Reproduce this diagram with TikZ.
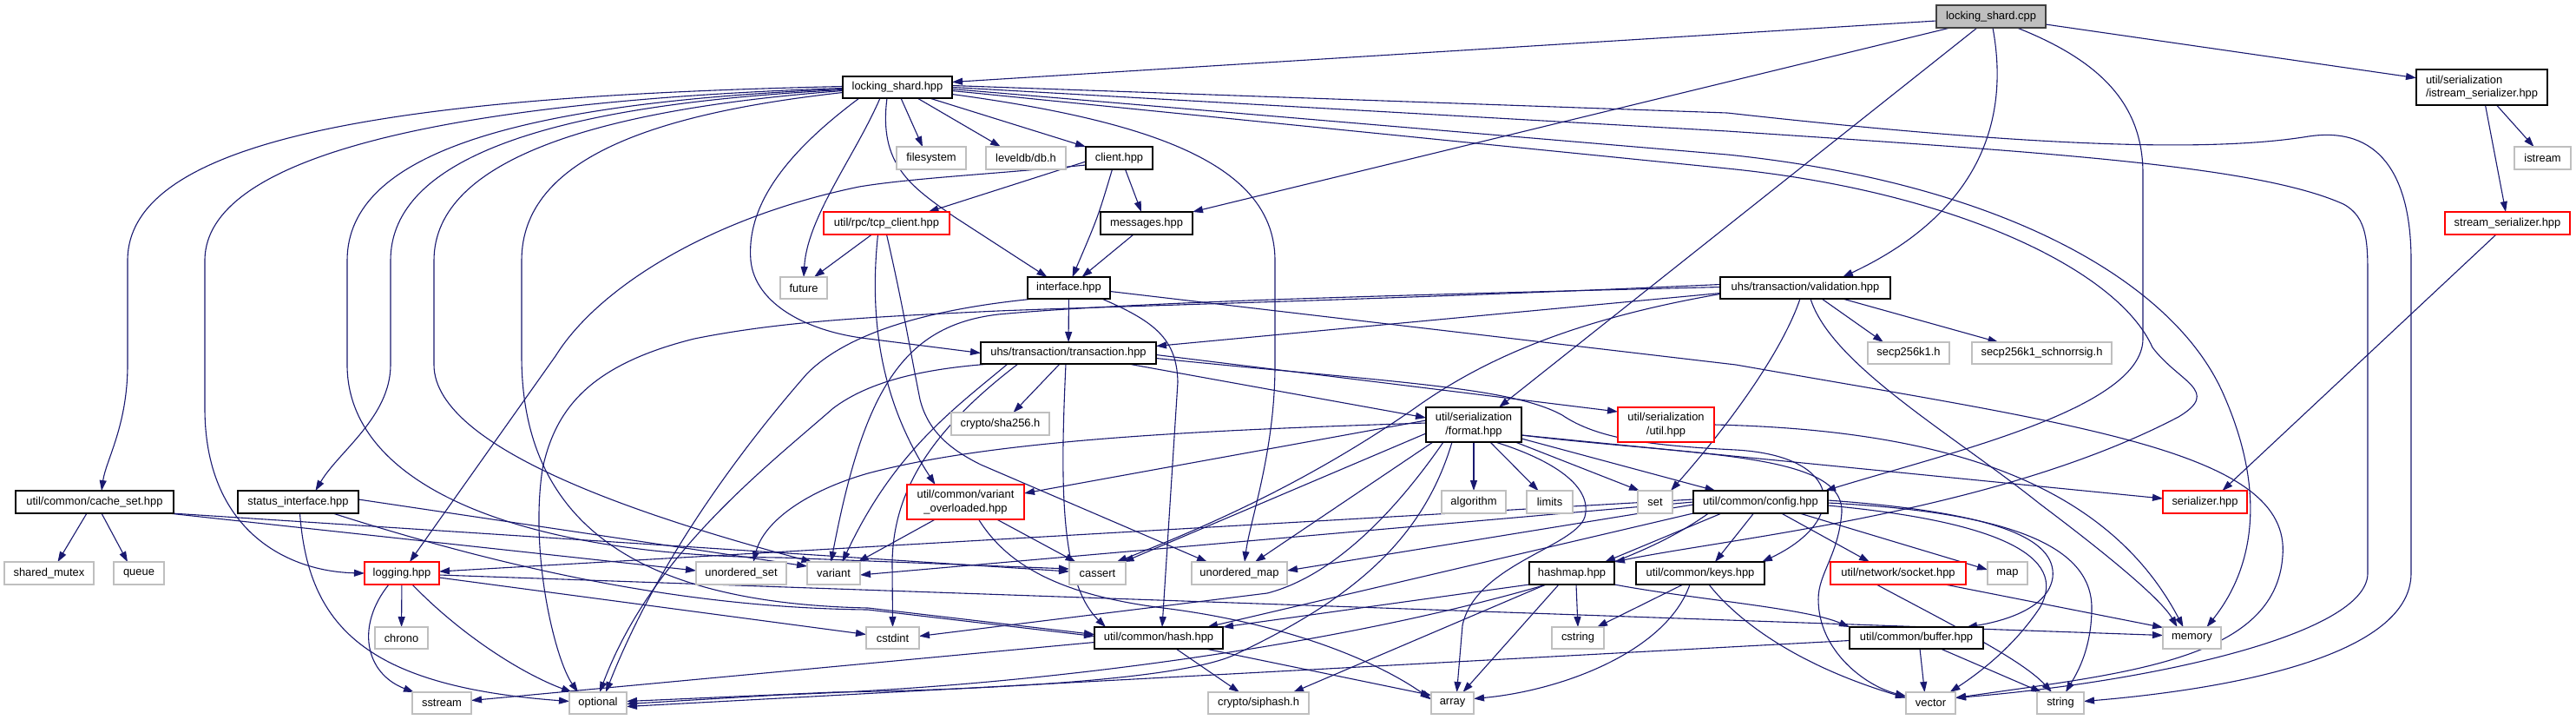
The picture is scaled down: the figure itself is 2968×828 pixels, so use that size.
\documentclass[tikz,border=0pt]{standalone}
\usepackage{fontspec}
\setmainfont{Liberation Sans}
\usetikzlibrary{arrows.meta}
\pgfdeclarelayer{back}
\pgfdeclarelayer{edges}
\pgfsetlayers{back,edges,main}
\definecolor{edgecol}{HTML}{191970}
\definecolor{extcol}{HTML}{BFBFBF}
\definecolor{rootfill}{HTML}{BFBFBF}
\definecolor{rootdraw}{HTML}{404040}
\definecolor{trunc}{HTML}{FF0000}
\newcommand\nf{\fontsize{12.9}{15.5}\selectfont}
\newcommand\nd[7]{\node[#1,minimum width=#5pt,minimum height=#6pt] (#2) at (#3,#4) {#7};}
\tikzset{
  box/.style={rectangle,inner sep=0pt,outer sep=0pt,font=\nf,align=center,fill=white},
  doc/.style={box,draw=black,line width=1.1pt},
  docl/.style={doc,align=left},
  ext/.style={box,draw=extcol,line width=1.2pt},
  red/.style={box,draw=trunc,line width=1.1pt},
  root/.style={box,draw=rootdraw,fill=rootfill,line width=1.1pt},
  ed/.style={draw=edgecol,line width=1.1pt,-{Triangle[length=12pt,width=8pt]}}
}
\begin{document}
\begin{tikzpicture}[x=1pt,y=-1pt]
\begin{pgfonlayer}{back}
\fill[white] (0,0) rectangle (2968,828);
\end{pgfonlayer}
\useasboundingbox (0,0) rectangle (2968,828);
% nodes
\nd{root}{cpp}{2294}{19}{126}{26}{locking\_shard.cpp}
\nd{doc}{lshpp}{1034}{100.5}{126}{25}{locking\_shard.hpp}
\nd{docl}{istreamser}{2859.5}{100.5}{151}{41}{util/serialization\\/istream\_serializer.hpp}
\nd{ext}{filesystem}{1073}{182}{80}{26}{filesystem}
\nd{ext}{leveldb}{1182}{182}{92}{26}{leveldb/db.h}
\nd{doc}{client}{1289.5}{182}{77}{26}{client.hpp}
\nd{ext}{istream}{2929.5}{182}{65}{26}{istream}
\nd{red}{tcp}{1021.5}{257}{145}{26}{util/rpc/tcp\_client.hpp}
\nd{doc}{messages}{1321}{257}{106}{26}{messages.hpp}
\nd{red}{streamser}{2889}{257}{144}{26}{stream\_serializer.hpp}
\nd{ext}{future}{926}{331.5}{54}{25}{future}
\nd{doc}{interface}{1231.5}{331.5}{95}{25}{interface.hpp}
\nd{doc}{validation}{2080}{331.5}{196}{25}{uhs/transaction/validation.hpp}
\nd{doc}{transaction}{1231}{406.5}{202}{25}{uhs/transaction/transaction.hpp}
\nd{ext}{secp}{2199}{406.5}{94}{25}{secp256k1.h}
\nd{ext}{schnorr}{2352.5}{406.5}{161}{25}{secp256k1\_schnorrsig.h}
\nd{ext}{sha}{1152.5}{488}{113}{26}{crypto/sha256.h}
\nd{doc}{format}{1698}{489}{110}{40}{util/serialization\\/format.hpp}
\nd{red}{sutil}{1919.5}{489}{111}{40}{util/serialization\\/util.hpp}
\nd{doc}{cache}{109}{578}{182}{26}{util/common/cache\_set.hpp}
\nd{doc}{status}{343.5}{578}{139}{26}{status\_interface.hpp}
\nd{red}{varov}{1112.5}{578}{135}{40}{util/common/variant\\\_overloaded.hpp}
\nd{ext}{algorithm}{1698}{578}{74}{26}{algorithm}
\nd{ext}{limits}{1785.5}{578}{53}{26}{limits}
\nd{ext}{set}{1907}{578}{40}{26}{set}
\nd{doc}{config}{2028.5}{578}{155}{26}{util/common/config.hpp}
\nd{red}{serializer}{2540.5}{578}{97}{26}{serializer.hpp}
\nd{ext}{smutex}{56.5}{660}{103}{26}{shared\_mutex}
\nd{ext}{queue}{160}{660}{58}{26}{queue}
\nd{red}{logging}{463}{660}{86}{26}{logging.hpp}
\nd{ext}{uset}{854}{660}{104}{26}{unordered\_set}
\nd{ext}{variant}{960.5}{660}{61}{26}{variant}
\nd{ext}{cassert}{1264.5}{660}{65}{26}{cassert}
\nd{ext}{umap}{1428}{660}{110}{26}{unordered\_map}
\nd{doc}{hashmap}{1811}{660}{98}{26}{hashmap.hpp}
\nd{doc}{keys}{1959}{660}{148}{26}{util/common/keys.hpp}
\nd{red}{socket}{2187}{660}{156}{26}{util/network/socket.hpp}
\nd{ext}{map}{2313}{660}{46}{26}{map}
\nd{ext}{chrono}{462.5}{734.5}{61}{25}{chrono}
\nd{ext}{cstdint}{1028.5}{734.5}{61}{25}{cstdint}
\nd{doc}{hash}{1335}{734.5}{148}{25}{util/common/hash.hpp}
\nd{ext}{cstring}{1818}{734.5}{60}{25}{cstring}
\nd{doc}{buffer}{2208}{734.5}{154}{25}{util/common/buffer.hpp}
\nd{ext}{memory}{2525.5}{734.5}{67}{25}{memory}
\nd{ext}{sstream}{509}{809.5}{68}{25}{sstream}
\nd{ext}{optional}{689}{809.5}{66}{25}{optional}
\nd{ext}{siphash}{1450}{809.5}{116}{25}{crypto/siphash.h}
\nd{ext}{array}{1673.5}{809.5}{49}{25}{array}
\nd{ext}{vector}{2224.5}{809.5}{57}{25}{vector}
\nd{ext}{string}{2374}{809.5}{54}{25}{string}
\begin{pgfonlayer}{edges}
% cpp
\draw[ed] ([yshift=-5pt]cpp.west) -- ([yshift=6pt]lshpp.east);
\draw[ed] ([xshift=-47pt]cpp.south) -- (messages.north east);
\draw[ed] ([xshift=-16pt]cpp.south) -- ([xshift=29pt]format.north);
\draw[ed] ([xshift=2pt]cpp.south) .. controls (2318,150) and (2270,250) .. ([xshift=43pt]validation.north);
\draw[ed] ([xshift=30pt]cpp.south) .. controls (2420,70) and (2469,120) .. (2469,200) -- (2469,390) .. controls (2469,470) and (2250,520) .. ([xshift=-3pt]config.north east);
\draw[ed] (cpp) -- (istreamser);
% istream serializer
\draw[ed] ([xshift=17pt]istreamser.south) -- ([xshift=-10pt]istream.north);
\draw[ed] ([xshift=4pt]istreamser.south) -- ([xshift=-2pt]streamser.north);
\draw[ed] ([xshift=-13pt]streamser.south) -- ([xshift=20pt]serializer.north);
% locking_shard.hpp
\draw[ed] ([xshift=4pt]lshpp.south) -- ([xshift=-10pt]filesystem.north);
\draw[ed] ([xshift=23pt]lshpp.south) -- ([xshift=-29pt]leveldb.north);
\draw[ed] ([xshift=37pt]lshpp.south) -- (client.north west);
\draw[ed] ([xshift=-20pt]lshpp.south) .. controls (985,180) and (930,250) .. (future.north);
\draw[ed] ([xshift=-12pt]lshpp.south) .. controls (1012,190) and (1050,215) .. (1100,250) -- ([xshift=-25pt]interface.north);
\draw[ed] ([xshift=-44pt]lshpp.south) .. controls (900,180) and (860,240) .. (865,300) .. controls (870,350) and (930,382) .. (1000,390) -- (transaction.west);
\draw[ed] ([yshift=1pt]lshpp.west) .. controls (500,110) and (147,150) .. (147,300) -- (147,420) .. controls (147,490) and (122,530) .. ([xshift=8pt]cache.north);
\draw[ed] ([yshift=-1pt]lshpp.west) .. controls (560,115) and (236,170) .. (236,300) -- (236,470) .. controls (236,610) and (330,658) .. (logging.west);
\draw[ed] ([yshift=-2pt]lshpp.west) .. controls (600,118) and (400,175) .. (400,300) -- (400,420) .. controls (400,560) and (600,640) .. (900,642) -- ([yshift=5pt]cassert.west);
\draw[ed] ([yshift=-3pt]lshpp.west) .. controls (640,120) and (450,180) .. (450,300) -- (450,420) .. controls (450,480) and (390,520) .. ([xshift=20pt]status.north);
\draw[ed] ([yshift=-4pt]lshpp.west) .. controls (700,125) and (500,180) .. (500,300) -- (500,420) .. controls (500,520) and (760,600) .. ([xshift=-25pt]variant.north);
\draw[ed] ([yshift=-6pt]lshpp.west) .. controls (760,130) and (601,180) .. (601,300) -- (601,410) .. controls (601,620) and (760,695) .. (1000,700) -- ([yshift=4pt]hash.west);
\draw[ed] ([yshift=-8pt]lshpp.east) .. controls (1330,140) and (1469,190) .. (1469,300) -- (1469,420) .. controls (1469,520) and (1440,600) .. ([xshift=6pt]umap.north);
\draw[ed] ([yshift=-4pt]lshpp.east) -- (1990,194) .. controls (2250,220) and (2440,310) .. (2480,400) .. controls (2510,440) and (2560,450) .. (2510,480) .. controls (2300,590) and (1990,620) .. (hashmap.north east);
\draw[ed] ([yshift=-2pt]lshpp.east) -- (1990,178) .. controls (2300,210) and (2500,320) .. (2560,450) .. controls (2610,560) and (2600,650) .. ([xshift=17pt]memory.north);
\draw[ed] (lshpp.east) -- (1990,151) .. controls (2350,175) and (2600,190) .. (2700,235) .. controls (2728,250) and (2728,280) .. (2728,320) -- (2728,660) .. controls (2728,730) and (2480,785) .. ([yshift=6pt]vector.east);
\draw[ed] ([yshift=2pt]lshpp.east) -- (1990,130) .. controls (2350,170) and (2550,175) .. (2660,157) .. controls (2740,145) and (2778,200) .. (2778,300) -- (2778,660) .. controls (2778,760) and (2550,795) .. ([yshift=2pt]string.east);
% client
\draw[ed] ([yshift=-4pt]client.west) -- ([xshift=48pt]tcp.north);
\draw[ed] ([xshift=7pt]client.south) -- ([xshift=-6pt]messages.north);
\draw[ed] ([xshift=-8pt]client.south) .. controls (1265,250) .. ([xshift=4pt]interface.north);
\draw[ed] ([yshift=-8pt]client.west) .. controls (1150,200) and (1050,205) .. (990,215) .. controls (820,250) and (690,330) .. (640,410) -- ([xshift=9pt]logging.north);
% tcp
\draw[ed] ([xshift=-17pt]tcp.south) -- ([xshift=12pt]future.north);
\draw[ed] ([xshift=-10pt]tcp.south) .. controls (1000,380) and (1020,470) .. ([xshift=-35pt]varov.north);
\draw[ed] (tcp.south) .. controls (1040,350) and (1048,400) .. (1060,460) .. controls (1070,500) and (1100,520) .. (1130,535) -- ([xshift=-37pt]umap.north);
% messages
\draw[ed] ([xshift=-15pt]messages.south) -- ([xshift=15pt]interface.north);
% interface
\draw[ed] (interface) -- (transaction);
\draw[ed] ([xshift=-40pt]interface.south) .. controls (1080,355) and (980,380) .. (930,430) .. controls (860,510) and (760,640) .. ([xshift=9pt]optional.north);
\draw[ed] ([xshift=38pt]interface.south) .. controls (1330,370) and (1356,390) .. (1357,440) -- ([xshift=4pt]hash.north);
\draw[ed] ([yshift=-4pt]interface.east) -- (2000,420) .. controls (2400,490) and (2640,520) .. (2630,640) .. controls (2622,760) and (2450,775) .. ([yshift=6pt]vector.east);
% transaction
\draw[ed] ([xshift=-10pt]transaction.south) -- ([xshift=15pt]sha.north);
\draw[ed] ([xshift=-3pt]transaction.south) .. controls (1222,550) and (1220,670) .. ([xshift=-61pt]hash.north);
\draw[ed] ([xshift=69pt]transaction.south) -- ([yshift=8pt]format.west);
\draw[ed] ([yshift=-2pt]transaction.east) -- ([yshift=15pt]sutil.west);
\draw[ed] ([yshift=-6pt]transaction.east) .. controls (1600,440) and (1740,445) .. (1800,478) .. controls (1840,505) and (1900,513) .. (2000,518) .. controls (2125,525) and (2130,600) .. ([xshift=-3pt]keys.north east);
\draw[ed] ([xshift=-58pt]transaction.south) .. controls (1080,490) and (1028,560) .. (1028,650) -- (cstdint.north);
\draw[ed] ([xshift=-70pt]transaction.south) .. controls (1100,470) and (1030,520) .. ([xshift=10pt]variant.north);
\draw[ed] ([xshift=-90pt]transaction.south) .. controls (1060,425) and (1000,440) .. (960,470) .. controls (880,540) and (750,640) .. ([xshift=2pt]optional.north);
% validation
\draw[ed] ([yshift=-6pt]validation.west) -- ([yshift=8pt]transaction.east);
\draw[ed] ([xshift=19pt]validation.south) -- ([xshift=-29pt]secp.north);
\draw[ed] ([xshift=43pt]validation.south) -- ([xshift=-50pt]schnorr.north);
\draw[ed] ([xshift=-6pt]validation.south) .. controls (2055,400) and (2000,480) .. ([xshift=18pt]set.north);
\draw[ed] ([xshift=6pt]validation.south) .. controls (2110,420) and (2250,500) .. (2350,580) .. controls (2430,640) and (2490,690) .. ([xshift=-17pt]memory.north);
\draw[ed] ([yshift=-7pt]validation.west) .. controls (1800,370) and (1700,420) .. (1630,470) .. controls (1500,560) and (1380,610) .. ([xshift=22pt]cassert.north);
\draw[ed] ([yshift=1pt]validation.west) .. controls (1600,340) and (1300,348) .. (1150,362) .. controls (1040,375) and (995,450) .. ([xshift=-3pt]variant.north);
\draw[ed] ([yshift=4pt]validation.west) .. controls (1600,345) and (1300,352) .. (1150,358) .. controls (1000,365) and (900,370) .. (800,390) .. controls (680,420) and (640,470) .. (625,540) .. controls (610,640) and (640,760) .. ([xshift=-23pt]optional.north);
% format
\draw[ed] ([yshift=5pt]format.west) -- ([yshift=10pt]varov.east);
\draw[ed] (format) -- (algorithm);
\draw[ed] ([xshift=19pt]format.south) -- ([xshift=-13pt]limits.north);
\draw[ed] ([xshift=48pt]format.south) -- ([xshift=-18pt]set.north);
\draw[ed] ([yshift=-16pt]format.east) -- ([xshift=-52pt]config.north);
\draw[ed] ([yshift=-12pt]format.east) -- ([yshift=4pt]serializer.west);
\draw[ed] ([yshift=-10pt]format.west) -- ([xshift=30pt]cassert.north);
\draw[ed] ([xshift=-47pt]format.south) -- ([xshift=18pt]umap.north);
\draw[ed] ([yshift=2pt]format.west) .. controls (1400,495) and (1150,505) .. (1000,545) .. controls (930,565) and (880,600) .. ([xshift=14pt]uset.north);
\draw[ed] ([xshift=-35pt]format.south) .. controls (1600,600) and (1530,665) .. (1460,683) -- ([yshift=2pt]cstdint.east);
\draw[ed] ([xshift=25pt]format.south) .. controls (1790,530) and (1835,560) .. (1826,595) .. controls (1815,630) and (1700,650) .. (1685,720) -- ([xshift=5pt]array.north);
\draw[ed] ([xshift=-25pt]format.south) .. controls (1640,620) and (1560,690) .. (1420,755) .. controls (1350,785) and (1100,795) .. (960,797) -- ([yshift=2pt]optional.east);
\draw[ed] ([yshift=-12pt]format.east) .. controls (1950,525) and (2125,520) .. (2122,590) .. controls (2118,640) and (2095,660) .. (2095,690) .. controls (2095,750) and (2150,790) .. ([yshift=8pt]vector.west);
% serialization util
\draw[ed] (sutil.east) .. controls (2250,495) and (2430,560) .. ([xshift=-10pt]memory.north);
% config
\draw[ed] ([yshift=3pt]config.west) -- ([yshift=2pt]logging.east);
\draw[ed] (config.west) -- ([yshift=-2pt]variant.east);
\draw[ed] ([yshift=-3pt]config.west) -- ([yshift=3pt]umap.east);
\draw[ed] (config.south west) -- ([xshift=-18pt]hash.north east);
\draw[ed] ([xshift=-45pt]config.south) -- ([xshift=38pt]hashmap.north);
\draw[ed] ([xshift=-8pt]config.south) -- ([xshift=17pt]keys.north);
\draw[ed] ([xshift=24pt]config.south) -- ([xshift=-33pt]socket.north);
\draw[ed] ([xshift=45pt]config.south) -- ([yshift=4pt]map.west);
\draw[ed] ([yshift=2pt]config.east) .. controls (2300,590) and (2370,620) .. (2365,665) .. controls (2360,700) and (2310,715) .. ([xshift=58pt]buffer.north);
\draw[ed] ([yshift=-1pt]config.east) .. controls (2320,590) and (2410,630) .. (2410,700) .. controls (2410,750) and (2390,780) .. ([xshift=6pt]string.north);
\draw[ed] ([yshift=-4pt]config.east) .. controls (2300,600) and (2385,640) .. (2350,700) .. controls (2320,745) and (2280,775) .. ([xshift=22pt]vector.north);
\draw[ed] ([xshift=-60pt]config.south) .. controls (1900,640) and (1800,670) .. (1700,695) .. controls (1500,745) and (1200,790) .. (900,800) -- ([yshift=-1pt]optional.east);
% keys
\draw[ed] ([xshift=-20pt]keys.south) -- ([xshift=22pt]cstring.north);
\draw[ed] ([xshift=-12pt]keys.south) .. controls (1920,750) and (1800,795) .. ([yshift=5pt]array.east);
\draw[ed] ([xshift=10pt]keys.south) .. controls (1990,700) and (2050,760) .. ([yshift=6pt]vector.west);
% hashmap
\draw[ed] (hashmap.south west) -- (hash.north east);
\draw[ed] ([xshift=5pt]hashmap.south) -- (cstring.north);
\draw[ed] ([xshift=-15pt]hashmap.south) -- ([xshift=12pt]array.north);
\draw[ed] ([xshift=-30pt]hashmap.south) -- ([xshift=40pt]siphash.north);
\draw[ed] (hashmap.south east) .. controls (1950,690) and (2080,700) .. (buffer.north west);
% hash
\draw[ed] ([xshift=20pt]hash.south) -- ([xshift=-22pt]siphash.north);
\draw[ed] ([xshift=54pt]hash.south) -- ([yshift=9pt]array.west);
\draw[ed] ([yshift=-5pt]hash.west) -- ([yshift=3pt]sstream.east);
% buffer
\draw[ed] ([xshift=4pt]buffer.south) -- ([xshift=-7pt]vector.north);
\draw[ed] ([xshift=28pt]buffer.south) -- ([xshift=-22pt]string.north);
\draw[ed] ([yshift=-3pt]buffer.west) -- ([yshift=-4pt]optional.east);
% socket
\draw[ed] ([xshift=-25pt]socket.south) .. controls (2250,720) and (2330,760) .. ([xshift=-10pt]string.north);
\draw[ed] ([xshift=54pt]socket.south) -- ([yshift=12pt]memory.west);
% variant_overloaded
\draw[ed] ([xshift=-35pt]varov.south) -- ([xshift=28pt]variant.north);
\draw[ed] ([xshift=36pt]varov.south) -- ([xshift=-25pt]cassert.north);
\draw[ed] ([xshift=15pt]varov.south) .. controls (1160,650) and (1220,685) .. (1340,700) .. controls (1500,720) and (1600,770) .. ([yshift=4pt]array.west);
% status_interface
\draw[ed] ([yshift=3pt]status.east) -- ([yshift=8pt]variant.west);
\draw[ed] ([xshift=40pt]status.south) .. controls (600,660) and (800,700) .. (1000,702) -- ([yshift=2pt]hash.west);
\draw[ed] ([xshift=2pt]status.south) .. controls (355,720) and (420,790) .. ([yshift=2pt]optional.west);
% logging
\draw[ed] (logging) -- (chrono);
\draw[ed] ([xshift=-15pt]logging.south) .. controls (410,720) and (420,775) .. ([xshift=-32pt]sstream.north);
\draw[ed] ([xshift=12pt]logging.south) .. controls (530,730) and (600,775) .. ([xshift=3pt]optional.north west);
\draw[ed] ([yshift=-5pt]logging.east) -- ([yshift=4pt]cstdint.west);
\draw[ed] ([yshift=-2pt]logging.east) -- ([yshift=3pt]memory.west);
% cache_set
\draw[ed] ([xshift=-9pt]cache.south) -- ([xshift=10pt]smutex.north);
\draw[ed] ([xshift=8pt]cache.south) -- ([xshift=-13pt]queue.north);
\draw[ed] ([xshift=-6pt]cache.south east) -- ([yshift=3pt]uset.west);
\draw[ed] ([xshift=-2pt]cache.south east) -- ([yshift=2pt]cassert.west);
\end{pgfonlayer}
\end{tikzpicture}
\end{document}
